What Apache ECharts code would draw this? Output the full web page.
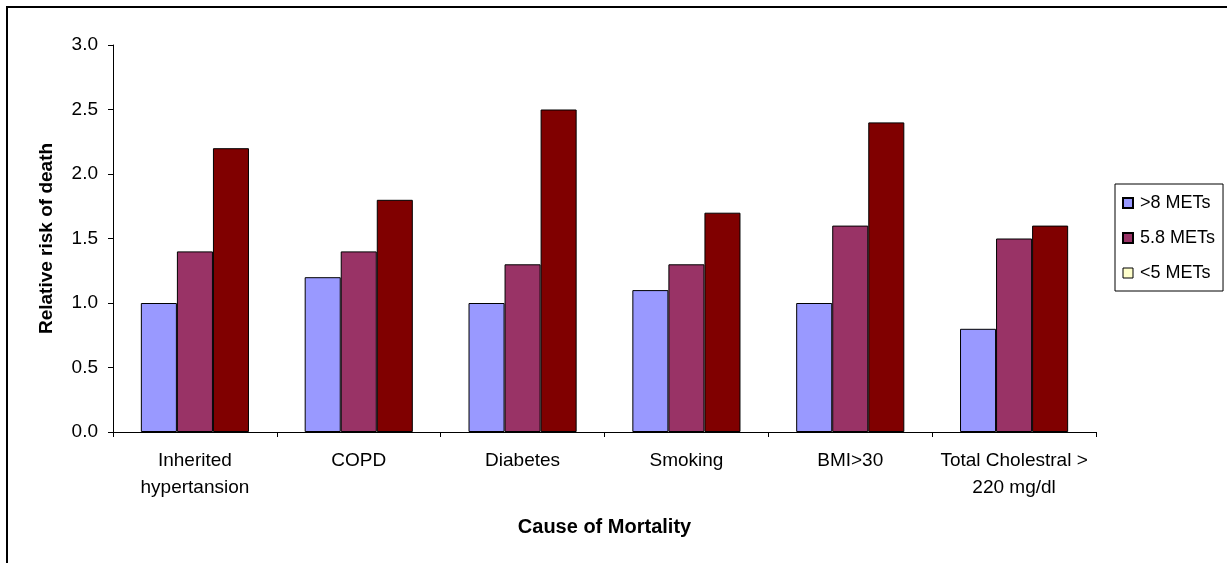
<!DOCTYPE html>
<html>
<head>
<meta charset="utf-8">
<title>Relative risk of death by cause of mortality</title>
<style>
html, body { margin: 0; padding: 0; background: #fff; }
#chart { width: 1227px; height: 563px; }
</style>
</head>
<body>
<div id="chart"></div>
<script src="https://cdn.jsdelivr.net/npm/echarts@6/dist/echarts.min.js"></script>
<script>
var categories = ['Inherited\nhypertansion', 'COPD', 'Diabetes', 'Smoking', 'BMI>30', 'Total Cholestral >\n220 mg/dl'];
var seriesNames = ['>8 METs', '5.8 METs', '<5 METs'];
var over8 = [1.0, 1.2, 1.0, 1.1, 1.0, 0.8];
var mets58 = [1.4, 1.4, 1.3, 1.3, 1.6, 1.5];
var under5 = [2.2, 1.8, 2.5, 1.7, 2.4, 1.6];

var font = 'Liberation Sans, Arial, sans-serif';

var chart = echarts.init(document.getElementById('chart'));
var option = {
    animation: false,
    backgroundColor: '#fff',
    textStyle: { fontFamily: font, color: '#000' },
    // outer chart border (runs off the right and bottom edges)
    graphic: [{
        type: 'rect',
        shape: { x: 7, y: 7, width: 1400, height: 700 },
        style: { fill: 'none', stroke: '#000', lineWidth: 2 },
        silent: true
    }],
    grid: { left: 113, right: 131, top: 45, bottom: 131 },
    legend: {
        orient: 'vertical',
        left: 1115,
        top: 184,
        padding: [10, 8, 9, 7],
        itemGap: 17,
        itemWidth: 10,
        itemHeight: 10,
        borderColor: '#000',
        borderWidth: 1,
        borderRadius: 0,
        icon: 'rect',
        textStyle: { fontFamily: font, fontSize: 18, color: '#000', padding: [0, 0, 0, 2] },
        data: [
            { name: seriesNames[0] },
            { name: seriesNames[1] },
            { name: seriesNames[2], itemStyle: { color: '#FFFFCC', borderColor: '#000', borderWidth: 1 } }
        ]
    },
    xAxis: {
        type: 'category',
        data: categories,
        boundaryGap: true,
        name: 'Cause of Mortality',
        nameLocation: 'middle',
        nameGap: 85,
        nameTextStyle: { fontFamily: font, fontSize: 20, fontWeight: 'bold', color: '#000' },
        axisLine: { lineStyle: { color: '#000', width: 1 } },
        axisTick: { show: true, alignWithLabel: false, length: 5, lineStyle: { color: '#000' } },
        axisLabel: { fontFamily: font, fontSize: 19, color: '#000', margin: 15, lineHeight: 27, interval: 0 },
        splitLine: { show: false }
    },
    yAxis: {
        type: 'value',
        min: 0,
        max: 3,
        interval: 0.5,
        name: 'Relative risk of death',
        nameLocation: 'middle',
        nameGap: 57,
        nameRotate: 90,
        nameTextStyle: { fontFamily: font, fontSize: 19, fontWeight: 'bold', color: '#000' },
        axisLine: { show: true, lineStyle: { color: '#000', width: 1 } },
        axisTick: { show: true, length: 5, lineStyle: { color: '#000' } },
        axisLabel: {
            fontFamily: font, fontSize: 19, color: '#000', margin: 15,
            formatter: function (v) { return v.toFixed(1); }
        },
        splitLine: { show: false }
    },
    series: [
        {
            name: seriesNames[0], type: 'bar', data: over8,
            barGap: '0%', barCategoryGap: '34%',
            itemStyle: { color: '#9999FF', borderColor: '#000', borderWidth: 1 }
        },
        {
            name: seriesNames[1], type: 'bar', data: mets58,
            barGap: '0%', barCategoryGap: '34%',
            itemStyle: { color: '#993366', borderColor: '#000', borderWidth: 1 }
        },
        {
            name: seriesNames[2], type: 'bar', data: under5,
            barGap: '0%', barCategoryGap: '34%',
            itemStyle: { color: '#800000', borderColor: '#000', borderWidth: 1 }
        }
    ]
};
chart.setOption(option);
</script>
</body>
</html>
